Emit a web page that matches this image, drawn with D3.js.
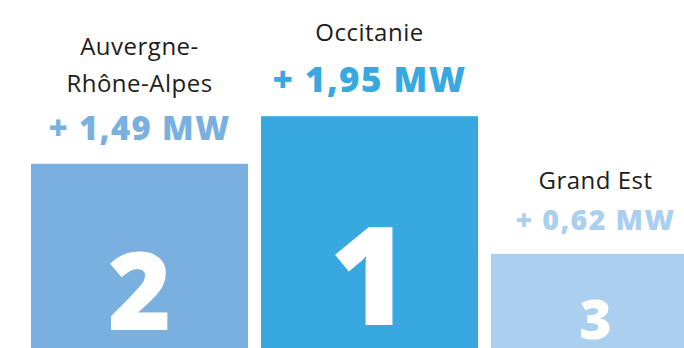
<!DOCTYPE html>
<html><head><meta charset="utf-8">
<script src="https://cdn.jsdelivr.net/npm/d3@7"></script>
<style>
html,body{margin:0;padding:0;background:#fff;overflow:hidden}
svg{display:block}
</style></head>
<body>
<svg id="chart" width="684" height="348"></svg>
<script>
// Data (display order, podium style)
const regions = [["Auvergne-", "Rhône-Alpes"], ["Occitanie"], ["Grand Est"]];
const regionKeys = ["Auvergne-Rhône-Alpes", "Occitanie", "Grand Est"];
const values = [1.49, 1.95, 0.62];
const valueLabels = ["+ 1,49 MW", "+ 1,95 MW", "+ 0,62 MW"];
const ranks = ["2", "1", "3"];
const colors = ["#7AB0DF", "#38A9E0", "#ABCFEF"];

const W = 684, H = 348;
const svg = d3.select("#chart");

const x = d3.scaleBand().domain(regionKeys).range([31, 708]).paddingInner(0.0565).paddingOuter(0);
// podium: bar tops follow the value above a raised floor
const y = d3.scaleLinear().domain([0, 2]).range([318, 111]);
const valueSize = d3.scaleLinear().domain([0.62, 1.95]).range([28.5, 35]);

const g = svg.selectAll("g.bar").data(regionKeys.map((k, i) => ({k, i}))).join("g").attr("class", "bar");

g.append("rect")
  .attr("x", d => x(d.k))
  .attr("y", d => y(values[d.i]))
  .attr("width", x.bandwidth())
  .attr("height", d => H - y(values[d.i]))
  .attr("fill", d => colors[d.i]);

const cx = d => {
  const x0 = x(d.k), x1 = Math.min(x0 + x.bandwidth(), W + 16);
  return (x0 + x1) / 2;
};

// rank digits
g.append("text")
  .attr("x", d => cx(d))
  .attr("y", d => H - 0.1 * (H - y(values[d.i])))
  .attr("text-anchor", "middle")
  .attr("fill", "#fff")
  .style("font-family", "'Noto Sans', Lato, sans-serif")
  .style("font-weight", 900)
  .style("font-size", d => (0.59 * (H - y(values[d.i]))) + "px")
  .text(d => ranks[d.i]);

// value labels
const vb = d => y(values[d.i]) - 24;
g.append("text")
  .attr("x", d => cx(d))
  .attr("y", d => vb(d))
  .attr("text-anchor", "middle")
  .attr("fill", d => colors[d.i])
  .style("font-family", "'Noto Sans', Lato, sans-serif")
  .style("font-weight", 900)
  .style("letter-spacing", "1.4px")
  .style("font-size", d => valueSize(values[d.i]) + "px")
  .text(d => valueLabels[d.i]);

// region labels
g.each(function(d) {
  const lines = regions[d.i];
  const base = vb(d) - valueSize(values[d.i]) * 1.45;
  const t = d3.select(this).append("text")
    .attr("text-anchor", "middle")
    .attr("fill", "#1d1d1b")
    .style("font-family", "'Open Sans', 'Noto Sans', sans-serif")
    .style("letter-spacing", "0.5px")
    .style("font-size", "24px");
  lines.forEach((ln, j) => {
    t.append("tspan").attr("x", cx(d)).attr("y", base - (lines.length - 1 - j) * 37).text(ln);
  });
});
</script>
</body></html>
